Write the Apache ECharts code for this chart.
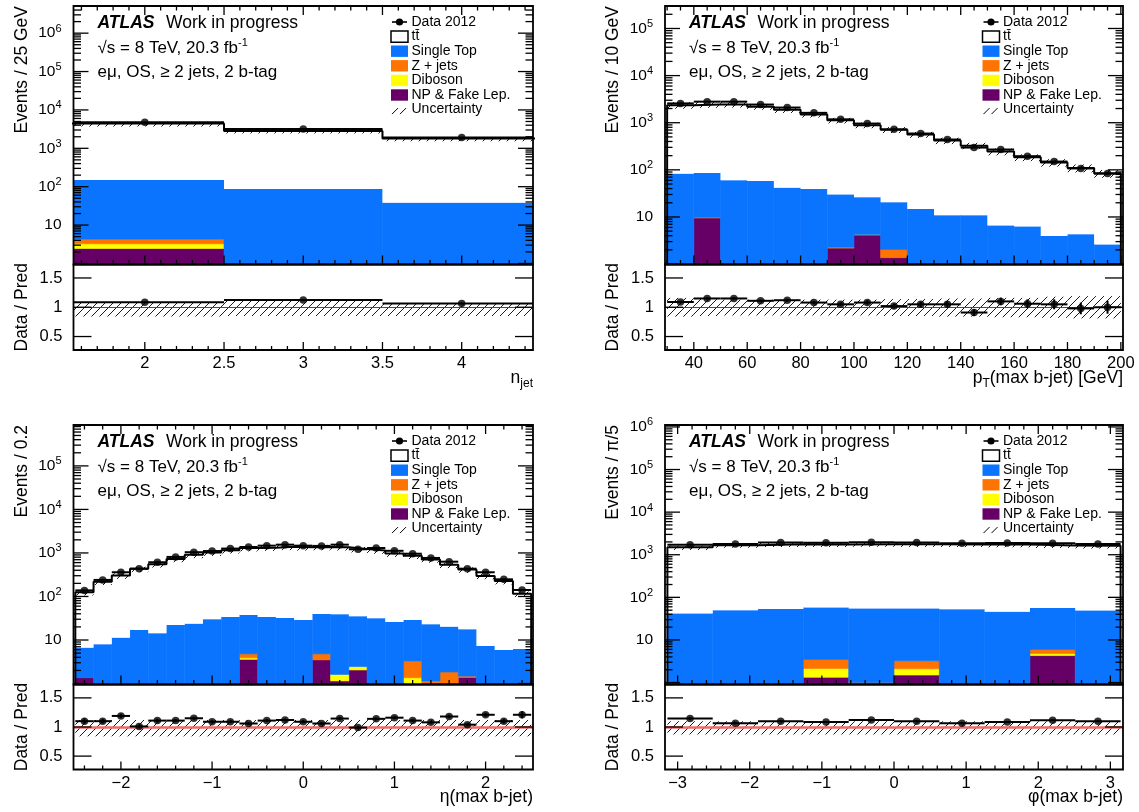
<!DOCTYPE html>
<html><head><meta charset="utf-8">
<script src="https://cdn.jsdelivr.net/npm/echarts@6.0.0/dist/echarts.min.js"></script>
<style>html,body{margin:0;padding:0;background:#fff}#c{width:1139px;height:812px}</style>
</head><body><div id="c"></div>
<script>
// ---------------- DATA ----------------
// n_jet
const njetBinEdges = [1.5, 2.5, 3.5, 4.5];
const njetData = [4800, 3200, 1920];
const njetTtbar = [4275, 2757, 1765];
const njetSingleTop = [145, 87, 38];
const njetZjets = [1.05, 0, 0];
const njetDiboson = [0.8, 0, 0];
const njetNPFake = [2.45, 0, 0];
const njetRatio = [1.085, 1.125, 1.065];
const njetRatioErr = [0.01, 0.012, 0.015];
const njetUncUp = [0.09, 0.12, 0.07];
const njetUncDown = [0.16, 0.15, 0.15];
const njetTickLabels = [2, 2.5, 3, 3.5, 4];

// pT(max b-jet)
const ptBinEdges = [30, 40, 50, 60, 70, 80, 90, 100, 110, 120, 130, 140, 150, 160, 170, 180, 190, 200];
const ptData = [2570, 2800, 2800, 2430, 2100, 1620, 1180, 960, 725, 590, 440, 297, 270, 195, 150, 107, 84];
const ptTtbar = [2275, 2349, 2375, 2131, 1833, 1461, 1094, 863, 690, 547, 408, 315, 238, 178, 139, 105, 81];
const ptSingleTop = [83, 76.2, 60, 58, 41.5, 39, 27.7, 21.8, 18.4, 14.8, 10.9, 10.9, 6.6, 6.3, 3.95, 4.3, 2.6];
const ptZjets = [0, 0, 0, 0, 0, 0, 0, 0, 0.68, 0, 0, 0, 0, 0, 0, 0, 0];
const ptDiboson = [0, 0.15, 0, 0, 0, 0, 0.06, 0.1, 0, 0, 0, 0, 0, 0, 0, 0, 0];
const ptNPFake = [0, 9.6, 0, 0, 0, 0, 2.2, 4.15, 1.37, 0, 0, 0, 0, 0, 0, 0, 0];
const ptRatio = [1.09, 1.15, 1.15, 1.11, 1.12, 1.08, 1.05, 1.08, 1.02, 1.05, 1.05, 0.91, 1.10, 1.06, 1.05, 0.98, 1.00];
const ptRatioErr = [0.02, 0.02, 0.02, 0.02, 0.025, 0.03, 0.03, 0.035, 0.04, 0.045, 0.05, 0.06, 0.065, 0.075, 0.085, 0.1, 0.11];
const ptUncUp = [0.16, 0.14, 0.13, 0.13, 0.13, 0.13, 0.13, 0.13, 0.14, 0.14, 0.15, 0.15, 0.16, 0.16, 0.18, 0.19, 0.19];
const ptUncDown = [0.16, 0.15, 0.14, 0.14, 0.14, 0.14, 0.14, 0.14, 0.15, 0.15, 0.16, 0.16, 0.17, 0.17, 0.18, 0.19, 0.19];
const ptTickLabels = [40, 60, 80, 100, 120, 140, 160, 180, 200];

// eta(max b-jet)
const etaBinEdges = [-2.5, -2.3, -2.1, -1.9, -1.7, -1.5, -1.3, -1.1, -0.9, -0.7, -0.5, -0.3, -0.1, 0.1, 0.3, 0.5, 0.7, 0.9, 1.1, 1.3, 1.5, 1.7, 1.9, 2.1, 2.3, 2.5];
const etaData = [138, 240, 360, 435, 611, 810, 1040, 1110, 1260, 1370, 1470, 1550, 1470, 1450, 1550, 1215, 1300, 1120, 960, 767, 630, 435, 360, 248, 141];
const etaTtbar = [118.8, 210, 291, 414, 536, 708, 880, 988, 1122, 1254, 1290, 1352, 1320, 1328, 1315, 1192, 1108, 939, 836, 687, 514, 400, 290, 220, 110];
const etaSingleTop = [5.3, 7.95, 11.3, 17, 14.3, 22, 23.7, 29.9, 33.8, 32.8, 33.8, 32, 28.8, 34.9, 37.4, 32.55, 31.5, 26, 25.5, 21.75, 18.36, 16.1, 7.3, 5.9, 6.2];
const etaZjets = [0, 0, 0, 0, 0, 0, 0, 0, 0, 0.9, 0, 0, 0, 1.3, 0, 0, 0, 0, 1.94, 0.25, 1.84, 0.1, 0, 0, 0];
const etaDiboson = [0, 0, 0, 0, 0, 0, 0, 0, 0, 0.3, 0, 0, 0, 0, 0.47, 0.4, 0, 0, 1.36, 0.9, 0, 0, 0, 0, 0];
const etaNPFake = [1.36, 0, 0, 0, 0, 0, 0, 0, 0, 3.6, 0, 0, 0, 3.5, 1.15, 2.05, 0, 0, 0, 0, 0, 1.38, 0, 0, 0];
const etaRatio = [1.10, 1.10, 1.19, 1.01, 1.11, 1.11, 1.15, 1.09, 1.09, 1.06, 1.11, 1.12, 1.09, 1.06, 1.145, 0.99, 1.14, 1.16, 1.11, 1.08, 1.18, 1.04, 1.21, 1.10, 1.21];
const etaRatioErr = [0.05, 0.04, 0.035, 0.03, 0.03, 0.025, 0.025, 0.025, 0.025, 0.025, 0.025, 0.025, 0.025, 0.025, 0.025, 0.025, 0.025, 0.025, 0.025, 0.025, 0.03, 0.03, 0.035, 0.04, 0.06];
const etaUncUp = [0.12, 0.12, 0.12, 0.12, 0.12, 0.12, 0.12, 0.12, 0.12, 0.12, 0.12, 0.12, 0.12, 0.12, 0.12, 0.12, 0.12, 0.12, 0.12, 0.12, 0.12, 0.12, 0.12, 0.12, 0.12];
const etaUncDown = [0.16, 0.16, 0.16, 0.16, 0.16, 0.16, 0.16, 0.16, 0.16, 0.16, 0.16, 0.16, 0.16, 0.16, 0.16, 0.16, 0.16, 0.16, 0.16, 0.16, 0.16, 0.16, 0.16, 0.16, 0.16];
const etaTickLabels = [-2, -1, 0, 1, 2];

// phi(max b-jet)
const phiBinEdges = [-3.1416, -2.5133, -1.885, -1.2566, -0.6283, 0, 0.6283, 1.2566, 1.885, 2.5133, 3.1416];
const phiData = [1710, 1780, 1930, 1900, 1970, 1930, 1850, 1880, 1850, 1780];
const phiTtbar = [1451, 1623, 1701, 1690, 1704, 1700, 1686, 1684, 1602, 1569];
const phiSingleTop = [41.7, 50, 53.5, 54.1, 53.6, 51.35, 52.6, 45.6, 50.4, 49];
const phiZjets = [0, 0, 0, 1.33, 1.0, 1.15, 0, 0, 1.2, 0];
const phiDiboson = [0, 0, 0, 0.82, 0, 0.6, 0, 0, 0.5, 0];
const phiNPFake = [0, 0, 0, 1.33, 0, 1.5, 0, 0, 4.3, 0];
const phiRatio = [1.145, 1.064, 1.10, 1.087, 1.12, 1.10, 1.064, 1.087, 1.116, 1.10];
const phiRatioErr = [0.015, 0.015, 0.015, 0.015, 0.015, 0.015, 0.015, 0.015, 0.015, 0.015];
const phiUncUp = [0.10, 0.10, 0.10, 0.10, 0.10, 0.10, 0.10, 0.10, 0.10, 0.10];
const phiUncDown = [0.13, 0.13, 0.13, 0.13, 0.13, 0.13, 0.13, 0.13, 0.13, 0.13];
const phiTickLabels = [-3, -2, -1, 0, 1, 2, 3];

const logTickLabels = [10, 100, 1000, 10000, 100000, 1000000];
const ratioTickLabels = [0.5, 1, 1.5];
const legendLabels = ['Data 2012', 't\u0074\u0304', 'Single Top', 'Z + jets', 'Diboson', 'NP & Fake Lep.', 'Uncertainty'];

// ---------------- STYLE / LAYOUT ----------------
const FONT = '"Liberation Sans", Arial, Helvetica, sans-serif';
const COMP_NAMES = ['NP & Fake Lep.', 'Diboson', 'Z + jets', 'Single Top', 't\u0074\u0304'];
const COMP_COLORS = ['#660066', '#ffff00', '#ff7400', '#0a74ff', '#ffffff'];
const COLS = [{ left: 73.5, width: 459.5 }, { left: 665, width: 458 }];
const ROWS = [{ top: 6, mainH: 258.5, ratioH: 85.5 }, { top: 425, mainH: 259.5, ratioH: 85 }];
const RATIO_RANGE = [0.27, 1.73];
const TICK_FONT = 16.5;

function makeHatch() {
  const c = document.createElement('canvas');
  c.width = 8; c.height = 8;
  const g = c.getContext('2d');
  g.strokeStyle = '#000'; g.lineWidth = 0.9;
  g.beginPath();
  g.moveTo(0, 8); g.lineTo(8, 0);
  g.moveTo(-2, 2); g.lineTo(2, -2);
  g.moveTo(6, 10); g.lineTo(10, 6);
  g.stroke();
  return c;
}
const HATCH = { image: makeHatch(), repeat: 'repeat' };

const panels = [
  { col: 0, row: 0, edges: njetBinEdges, data: njetData,
    comps: [njetNPFake, njetDiboson, njetZjets, njetSingleTop, njetTtbar],
    ratio: njetRatio, ratioErr: njetRatioErr, up: njetUncUp, dn: njetUncDown,
    xr: [1.55, 4.45], yr: [0.94, 5.1e6], xMaj: 0.5, xMin: 0.1, xLabels: njetTickLabels,
    yTitle: 'Events / 25 GeV', xTitle: '{t|n}{sub|jet}', wideRed: false },
  { col: 1, row: 0, edges: ptBinEdges, data: ptData,
    comps: [ptNPFake, ptDiboson, ptZjets, ptSingleTop, ptTtbar],
    ratio: ptRatio, ratioErr: ptRatioErr, up: ptUncUp, dn: ptUncDown,
    xr: [29.2, 200.8], yr: [0.98, 3e5], xMaj: 20, xMin: 5, xLabels: ptTickLabels,
    yTitle: 'Events / 10 GeV', xTitle: '{t|p}{sub|T}{t|(max b-jet) [GeV]}', wideRed: false },
  { col: 0, row: 1, edges: etaBinEdges, data: etaData,
    comps: [etaNPFake, etaDiboson, etaZjets, etaSingleTop, etaTtbar],
    ratio: etaRatio, ratioErr: etaRatioErr, up: etaUncUp, dn: etaUncDown,
    xr: [-2.52, 2.52], yr: [0.95, 8.7e5], xMaj: 1, xMin: 0.2, xLabels: etaTickLabels,
    yTitle: 'Events / 0.2', xTitle: '{t|\u03b7(max b-jet)}', wideRed: true },
  { col: 1, row: 1, edges: phiBinEdges, data: phiData,
    comps: [phiNPFake, phiDiboson, phiZjets, phiSingleTop, phiTtbar],
    ratio: phiRatio, ratioErr: phiRatioErr, up: phiUncUp, dn: phiUncDown,
    xr: [-3.175, 3.175], yr: [0.9, 1.11e6], xMaj: 1, xMin: 0.2, xLabels: phiTickLabels,
    yTitle: 'Events / \u03c0/5', xTitle: '{t|\u03c6(max b-jet)}', wideRed: true }
];

function rectItem(api, x0, x1, y0, y1, xr, yr, style) {
  x0 = Math.max(x0, xr[0]); x1 = Math.min(x1, xr[1]);
  y0 = Math.max(y0, yr[0]); y1 = Math.min(y1, yr[1]);
  if (!(x1 > x0) || !(y1 > y0)) return null;
  const a = api.coord([x0, y0]), b = api.coord([x1, y1]);
  return { type: 'rect', shape: { x: a[0], y: b[1], width: b[0] - a[0], height: a[1] - b[1] }, style: style };
}

function tickValues(lo, hi, step, maj) {
  const out = [];
  const n0 = Math.ceil(lo / step - 1e-9), n1 = Math.floor(hi / step + 1e-9);
  for (let n = n0; n <= n1; n++) {
    const v = n * step;
    const r = v / maj;
    out.push({ v: v, major: Math.abs(r - Math.round(r)) < 1e-6 });
  }
  return out;
}
function logTicks(lo, hi) {
  const out = [];
  for (let k = Math.floor(Math.log10(lo)); k <= Math.ceil(Math.log10(hi)); k++) {
    for (let m = 1; m <= 9; m++) {
      const v = m * Math.pow(10, k);
      if (v >= lo && v <= hi) out.push({ v: v, major: m === 1 });
    }
  }
  return out;
}

function frameSeries(gi, xr, yr, xt, yt, o) {
  return {
    type: 'custom', xAxisIndex: gi, yAxisIndex: gi, z: 20, silent: true,
    encode: { x: 0, y: 1 }, data: [[xr[0], yr[0]]],
    renderItem: function (params, api) {
      const cs = params.coordSys;
      const ch = [];
      const st = { stroke: '#000', lineWidth: 1.3, fill: 'none' };
      const bot = cs.y + cs.height, top = cs.y, lft = cs.x, rgt = cs.x + cs.width;
      xt.forEach(function (t) {
        const px = api.coord([t.v, yr[0]])[0];
        const len = t.major ? o.xMajLen : o.xMajLen / 2;
        ch.push({ type: 'line', shape: { x1: px, y1: bot, x2: px, y2: bot - len }, style: st });
        if (o.xTop) ch.push({ type: 'line', shape: { x1: px, y1: top, x2: px, y2: top + len }, style: st });
      });
      yt.forEach(function (t) {
        const py = api.coord([xr[0], t.v])[1];
        const len = t.major ? o.yMajLen : o.yMajLen / 2;
        ch.push({ type: 'line', shape: { x1: lft, y1: py, x2: lft + len, y2: py }, style: st });
        ch.push({ type: 'line', shape: { x1: rgt, y1: py, x2: rgt - len, y2: py }, style: st });
      });
      ch.push({ type: 'rect', shape: { x: lft, y: top, width: cs.width, height: cs.height }, style: { stroke: '#000', lineWidth: 1.8, fill: 'none' } });
      return { type: 'group', children: ch };
    }
  };
}

function fmtNum(v) {
  const s = String(v);
  return v < 0 ? '\u2212' + s.slice(1) : s;
}
function logLabel(v) {
  const e = Math.round(Math.log10(v));
  return e === 1 ? '{b|10}' : '{b|10}{s|' + e + '}';
}

const grids = [], xAxes = [], yAxes = [], series = [], graphics = [];

panels.forEach(function (p) {
  const col = COLS[p.col], row = ROWS[p.row];
  const L = col.left, T = row.top, Wd = col.width;
  const gm = grids.length;
  grids.push({ left: L, top: T, width: Wd, height: row.mainH, outerBoundsMode: 'none' });
  const gr = grids.length;
  grids.push({ left: L, top: T + row.mainH, width: Wd, height: row.ratioH, outerBoundsMode: 'none' });

  xAxes.push({ type: 'value', gridIndex: gm, min: p.xr[0], max: p.xr[1], show: false });
  xAxes.push({ type: 'value', gridIndex: gr, min: p.xr[0], max: p.xr[1],
    axisLine: { show: false }, axisTick: { show: false }, splitLine: { show: false },
    axisLabel: { customValues: p.xLabels, margin: 5, fontSize: TICK_FONT, color: '#000', fontFamily: FONT, formatter: fmtNum } });
  yAxes.push({ type: 'log', logBase: 10, gridIndex: gm, min: p.yr[0], max: p.yr[1],
    axisLine: { show: false }, axisTick: { show: false }, splitLine: { show: false },
    axisLabel: { customValues: logTickLabels.filter(function (v) { return v >= p.yr[0] && v <= p.yr[1]; }),
      margin: 12, formatter: logLabel, color: '#000', fontFamily: FONT,
      rich: { b: { fontSize: 15.5, lineHeight: 20, fontFamily: FONT, color: '#000' },
              s: { fontSize: 11, lineHeight: 11, verticalAlign: 'top', fontFamily: FONT, color: '#000' } } } });
  yAxes.push({ type: 'value', gridIndex: gr, min: RATIO_RANGE[0], max: RATIO_RANGE[1],
    axisLine: { show: false }, axisTick: { show: false }, splitLine: { show: false },
    axisLabel: { customValues: ratioTickLabels, margin: 11, fontSize: TICK_FONT, color: '#000', fontFamily: FONT, formatter: fmtNum } });

  const nb = p.edges.length - 1;
  const cum = new Array(nb).fill(0);
  p.comps.forEach(function (arr, ci) {
    const rows = [];
    for (let i = 0; i < nb; i++) {
      const lo = cum[i], hi = cum[i] + arr[i];
      cum[i] = hi;
      if (arr[i] > 0) rows.push([p.edges[i], p.edges[i + 1], Math.max(lo, p.yr[0]), hi]);
    }
    const color = COMP_COLORS[ci];
    series.push({ type: 'custom', name: COMP_NAMES[ci], xAxisIndex: gm, yAxisIndex: gm, z: 2, silent: true,
      encode: { x: [0, 1], y: [2, 3] }, data: rows,
      renderItem: function (params, api) {
        return rectItem(api, api.value(0), api.value(1), api.value(2), api.value(3), p.xr, p.yr,
          ci === 4 ? { fill: color } : { fill: color, stroke: color, lineWidth: 0.6 });
      } });
  });
  const total = cum.slice();

  // uncertainty band (main)
  const bandRows = [];
  for (let i = 0; i < nb; i++) bandRows.push([p.edges[i], p.edges[i + 1], total[i] * (1 - p.dn[i]), total[i] * (1 + p.up[i])]);
  series.push({ type: 'custom', name: 'Uncertainty', xAxisIndex: gm, yAxisIndex: gm, z: 3, silent: true,
    encode: { x: [0, 1], y: [2, 3] }, data: bandRows,
    renderItem: function (params, api) {
      return rectItem(api, api.value(0), api.value(1), api.value(2), api.value(3), p.xr, p.yr, { fill: HATCH });
    } });

  // total prediction step outline
  const stepPts = [[p.edges[0], p.yr[0]]];
  for (let i = 0; i < nb; i++) stepPts.push([p.edges[i], total[i]]);
  stepPts.push([p.edges[nb], total[nb - 1]]);
  stepPts.push([p.edges[nb], p.yr[0]]);
  series.push({ type: 'line', name: 'Prediction', xAxisIndex: gm, yAxisIndex: gm, z: 4, step: 'end',
    symbol: 'none', silent: true, clip: true, data: stepPts, lineStyle: { color: '#000', width: 2 } });

  // data points main
  const errRows = [], ptRows = [];
  for (let i = 0; i < nb; i++) {
    errRows.push([p.edges[i], p.edges[i + 1], p.data[i]]);
    ptRows.push([(p.edges[i] + p.edges[i + 1]) / 2, p.data[i]]);
  }
  series.push({ type: 'custom', name: 'Data 2012 err', xAxisIndex: gm, yAxisIndex: gm, z: 5, silent: true,
    encode: { x: [0, 1], y: [2] }, data: errRows,
    renderItem: function (params, api) {
      const x0 = Math.max(api.value(0), p.xr[0]), x1 = Math.min(api.value(1), p.xr[1]);
      const a = api.coord([x0, api.value(2)]), b = api.coord([x1, api.value(2)]);
      return { type: 'line', shape: { x1: a[0], y1: a[1], x2: b[0], y2: b[1] }, style: { stroke: '#000', lineWidth: 2 } };
    } });
  series.push({ type: 'scatter', name: 'Data 2012', xAxisIndex: gm, yAxisIndex: gm, z: 6, silent: true,
    symbol: 'circle', symbolSize: 7.5, itemStyle: { color: '#000' }, data: ptRows });

  // ratio pad
  const rBand = [], rErr = [], rPts = [];
  for (let i = 0; i < nb; i++) {
    rBand.push([p.edges[i], p.edges[i + 1], 1 - p.dn[i], 1 + p.up[i]]);
    rErr.push([p.edges[i], p.edges[i + 1], p.ratio[i], p.ratioErr[i]]);
    rPts.push([(p.edges[i] + p.edges[i + 1]) / 2, p.ratio[i]]);
  }
  series.push({ type: 'custom', name: 'Uncertainty ratio', xAxisIndex: gr, yAxisIndex: gr, z: 3, silent: true,
    encode: { x: [0, 1], y: [2, 3] }, data: rBand,
    renderItem: function (params, api) {
      return rectItem(api, api.value(0), api.value(1), api.value(2), api.value(3), p.xr, RATIO_RANGE, { fill: HATCH });
    } });
  series.push({ type: 'custom', name: 'Ratio err', xAxisIndex: gr, yAxisIndex: gr, z: 7, silent: true,
    encode: { x: [0, 1], y: [2] }, data: rErr,
    renderItem: function (params, api) {
      const x0 = Math.max(api.value(0), p.xr[0]), x1 = Math.min(api.value(1), p.xr[1]);
      const r = api.value(2), e = api.value(3), xc = (api.value(0) + api.value(1)) / 2;
      const a = api.coord([x0, r]), b = api.coord([x1, r]);
      const c = api.coord([xc, r - e]), d = api.coord([xc, r + e]);
      return { type: 'group', children: [
        { type: 'line', shape: { x1: a[0], y1: a[1], x2: b[0], y2: b[1] }, style: { stroke: '#000', lineWidth: 2 } },
        { type: 'line', shape: { x1: c[0], y1: c[1], x2: d[0], y2: d[1] }, style: { stroke: '#000', lineWidth: 2 } }
      ] };
    } });
  series.push({ type: 'scatter', name: 'Data / Pred', xAxisIndex: gr, yAxisIndex: gr, z: 8, silent: true,
    symbol: 'circle', symbolSize: 7.5, itemStyle: { color: '#000' }, data: rPts,
    markLine: { silent: true, symbol: ['none', 'none'], label: { show: false }, z: 5,
      lineStyle: p.wideRed ? { color: '#ec6a6a', width: 2.6, type: 'solid' } : { color: '#ff0000', width: 1.2, type: 'solid' },
      data: [{ yAxis: 1 }] } });

  // frames + ticks
  const xt = tickValues(p.xr[0], p.xr[1], p.xMin, p.xMaj);
  series.push(frameSeries(gm, p.xr, p.yr, xt, logTicks(p.yr[0], p.yr[1]), { xMajLen: 9, yMajLen: 15, xTop: true }));
  series.push(frameSeries(gr, p.xr, RATIO_RANGE, xt, ratioTickLabels.map(function (v) { return { v: v, major: true }; }), { xMajLen: 8, yMajLen: 18, xTop: false }));

  // ----- texts -----
  const tx = L + 24;
  graphics.push({ type: 'text', x: tx, y: T + 17, style: { text: 'ATLAS', font: 'italic bold 17.5px ' + FONT, fill: '#000', verticalAlign: 'middle' } });
  graphics.push({ type: 'text', x: L + 92.5, y: T + 17, style: { text: 'Work in progress', font: '17.5px ' + FONT, fill: '#000', verticalAlign: 'middle' } });
  graphics.push({ type: 'text', x: tx, y: T + 42.5, style: { text: '\u221as = 8 TeV, 20.3 fb{sup|-1}', font: '17px ' + FONT, fill: '#000', verticalAlign: 'middle', lineHeight: 22,
    rich: { sup: { fontSize: 11, lineHeight: 11, verticalAlign: 'top', fontFamily: FONT, fill: '#000' } } } });
  graphics.push({ type: 'text', x: tx, y: T + 66, style: { text: 'e\u03bc, OS, \u2265 2 jets, 2 b-tag', font: '17px ' + FONT, fill: '#000', verticalAlign: 'middle' } });

  // legend
  const bx = L + 317.5, ltx = L + 338, y0 = T + 16, dy = 14.6, bw = 17, bh = 11.4;
  legendLabels.forEach(function (lab, i) {
    const yc = y0 + i * dy;
    graphics.push({ type: 'text', x: ltx, y: yc, style: { text: lab, font: '14px ' + FONT, fill: '#000', verticalAlign: 'middle' } });
    if (i === 0) {
      graphics.push({ type: 'line', shape: { x1: bx + 1, y1: yc, x2: bx + bw - 1, y2: yc }, style: { stroke: '#000', lineWidth: 1.6 } });
      graphics.push({ type: 'circle', shape: { cx: bx + bw / 2, cy: yc, r: 3.6 }, style: { fill: '#000' } });
    } else if (i === 6) {
      graphics.push({ type: 'line', shape: { x1: bx + 1, y1: yc + 4.5, x2: bx + 7, y2: yc - 1.5 }, style: { stroke: '#000', lineWidth: 1 } });
      graphics.push({ type: 'line', shape: { x1: bx + 9, y1: yc + 4.5, x2: bx + 15, y2: yc - 1.5 }, style: { stroke: '#000', lineWidth: 1 } });
    } else {
      const ci = [4, 3, 2, 1, 0][i - 1];
      graphics.push({ type: 'rect', shape: { x: bx, y: yc - bh / 2, width: bw, height: bh },
        style: ci === 4 ? { fill: '#fff', stroke: '#000', lineWidth: 1.5 } : { fill: COMP_COLORS[ci] } });
    }
  });

  // axis titles
  graphics.push({ type: 'text', x: L - 51.5, y: T, rotation: Math.PI / 2,
    style: { text: p.yTitle, font: '17.5px ' + FONT, fill: '#000', align: 'right', verticalAlign: 'middle' } });
  graphics.push({ type: 'text', x: L - 51.5, y: T + row.mainH + row.ratioH / 2, rotation: Math.PI / 2,
    style: { text: 'Data / Pred', font: '17.5px ' + FONT, fill: '#000', align: 'center', verticalAlign: 'middle' } });
  graphics.push({ type: 'text', x: L + Wd, y: T + row.mainH + row.ratioH + 28,
    style: { text: p.xTitle, font: '17.5px ' + FONT, fill: '#000', align: 'right', verticalAlign: 'middle', lineHeight: 24,
      rich: { t: { fontSize: 17.5, lineHeight: 24, fontFamily: FONT, fill: '#000' },
              sub: { fontSize: 12, lineHeight: 12, verticalAlign: 'bottom', fontFamily: FONT, fill: '#000' } } } });
});

const chart = echarts.init(document.getElementById('c'), null, { renderer: 'canvas' });
chart.setOption({
  animation: false,
  backgroundColor: '#fff',
  textStyle: { fontFamily: FONT },
  grid: grids, xAxis: xAxes, yAxis: yAxes, series: series,
  graphic: { elements: graphics }
});
</script></body></html>
